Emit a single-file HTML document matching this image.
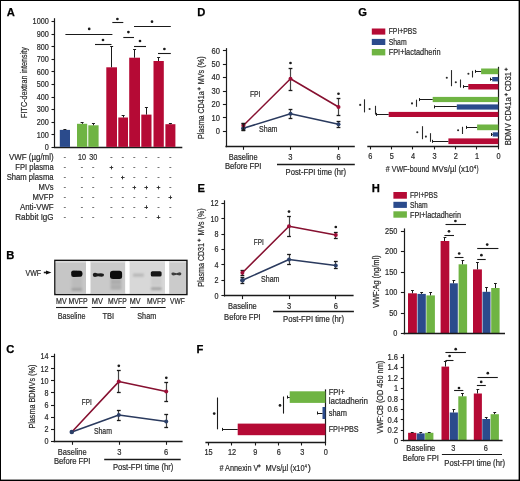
<!DOCTYPE html>
<html><head><meta charset="utf-8"><title>Figure</title>
<style>
html,body{margin:0;padding:0;background:#fff;}
body{width:520px;height:481px;overflow:hidden;}
svg{display:block;will-change:transform;font-family:"Liberation Sans",sans-serif;}
</style></head>
<body>
<svg width="520" height="481" viewBox="0 0 520 481">
<rect x="0" y="0" width="520" height="481" fill="#000"/>
<rect x="1" y="1" width="517.6" height="478.6" fill="#fff"/>
<text x="6.8" y="16" font-size="11.2" font-weight="bold" fill="#000" stroke="#000" stroke-width="0.25">A</text>
<line x1="54.5" y1="18.2" x2="54.5" y2="147.9" stroke="#1a1a1a" stroke-width="1.2"/>
<line x1="51.5" y1="147.5" x2="54.6" y2="147.5" stroke="#1a1a1a" stroke-width="1.1"/>
<text x="48.8" y="150.13" font-size="8.2" fill="#2a2a2a" text-anchor="end" textLength="4.05" lengthAdjust="spacingAndGlyphs" stroke="#2a2a2a" stroke-width="0.2">0</text>
<line x1="51.5" y1="134.5" x2="54.6" y2="134.5" stroke="#1a1a1a" stroke-width="1.1"/>
<text x="48.8" y="137.56" font-size="8.2" fill="#2a2a2a" text-anchor="end" textLength="12.15" lengthAdjust="spacingAndGlyphs" stroke="#2a2a2a" stroke-width="0.2">100</text>
<line x1="51.5" y1="122.5" x2="54.6" y2="122.5" stroke="#1a1a1a" stroke-width="1.1"/>
<text x="48.8" y="124.99" font-size="8.2" fill="#2a2a2a" text-anchor="end" textLength="12.15" lengthAdjust="spacingAndGlyphs" stroke="#2a2a2a" stroke-width="0.2">200</text>
<line x1="51.5" y1="109.5" x2="54.6" y2="109.5" stroke="#1a1a1a" stroke-width="1.1"/>
<text x="48.8" y="112.42" font-size="8.2" fill="#2a2a2a" text-anchor="end" textLength="12.15" lengthAdjust="spacingAndGlyphs" stroke="#2a2a2a" stroke-width="0.2">300</text>
<line x1="51.5" y1="97.5" x2="54.6" y2="97.5" stroke="#1a1a1a" stroke-width="1.1"/>
<text x="48.8" y="99.85" font-size="8.2" fill="#2a2a2a" text-anchor="end" textLength="12.15" lengthAdjust="spacingAndGlyphs" stroke="#2a2a2a" stroke-width="0.2">400</text>
<line x1="51.5" y1="84.5" x2="54.6" y2="84.5" stroke="#1a1a1a" stroke-width="1.1"/>
<text x="48.8" y="87.28" font-size="8.2" fill="#2a2a2a" text-anchor="end" textLength="12.15" lengthAdjust="spacingAndGlyphs" stroke="#2a2a2a" stroke-width="0.2">500</text>
<line x1="51.5" y1="71.5" x2="54.6" y2="71.5" stroke="#1a1a1a" stroke-width="1.1"/>
<text x="48.8" y="74.71" font-size="8.2" fill="#2a2a2a" text-anchor="end" textLength="12.15" lengthAdjust="spacingAndGlyphs" stroke="#2a2a2a" stroke-width="0.2">600</text>
<line x1="51.5" y1="59.5" x2="54.6" y2="59.5" stroke="#1a1a1a" stroke-width="1.1"/>
<text x="48.8" y="62.14" font-size="8.2" fill="#2a2a2a" text-anchor="end" textLength="12.15" lengthAdjust="spacingAndGlyphs" stroke="#2a2a2a" stroke-width="0.2">700</text>
<line x1="51.5" y1="46.5" x2="54.6" y2="46.5" stroke="#1a1a1a" stroke-width="1.1"/>
<text x="48.8" y="49.57" font-size="8.2" fill="#2a2a2a" text-anchor="end" textLength="12.15" lengthAdjust="spacingAndGlyphs" stroke="#2a2a2a" stroke-width="0.2">800</text>
<line x1="51.5" y1="34.5" x2="54.6" y2="34.5" stroke="#1a1a1a" stroke-width="1.1"/>
<text x="48.8" y="37" font-size="8.2" fill="#2a2a2a" text-anchor="end" textLength="12.15" lengthAdjust="spacingAndGlyphs" stroke="#2a2a2a" stroke-width="0.2">900</text>
<line x1="51.5" y1="21.5" x2="54.6" y2="21.5" stroke="#1a1a1a" stroke-width="1.1"/>
<text x="48.8" y="24.43" font-size="8.2" fill="#2a2a2a" text-anchor="end" textLength="16.2" lengthAdjust="spacingAndGlyphs" stroke="#2a2a2a" stroke-width="0.2">1000</text>
<line x1="54" y1="147.5" x2="182.3" y2="147.5" stroke="#1a1a1a" stroke-width="1.4"/>
<text x="27.3" y="117.9" font-size="8.8" fill="#2a2a2a" textLength="70.8" lengthAdjust="spacingAndGlyphs" stroke="#2a2a2a" stroke-width="0.2" transform="rotate(-90 27.3 117.9)">FITC-dextran intensity</text>
<rect x="59.8" y="129.9" width="10.2" height="17" fill="#2b4b8c"/>
<rect x="77" y="123.8" width="10.2" height="23.1" fill="#6fb443"/>
<rect x="88.3" y="125.3" width="10.3" height="21.6" fill="#6fb443"/>
<rect x="106.3" y="67.3" width="10.7" height="79.6" fill="#b50a35"/>
<rect x="118.3" y="117.5" width="9.7" height="29.4" fill="#b50a35"/>
<rect x="129.2" y="57.7" width="10.8" height="89.2" fill="#b50a35"/>
<rect x="141.3" y="114.6" width="10.2" height="32.3" fill="#b50a35"/>
<rect x="153.5" y="61" width="10.3" height="85.9" fill="#b50a35"/>
<rect x="165.4" y="124.2" width="10" height="22.7" fill="#b50a35"/>
<line x1="64.5" y1="129.9" x2="64.5" y2="129.4" stroke="#1a1a1a" stroke-width="1"/>
<line x1="63.4" y1="129.5" x2="66.4" y2="129.5" stroke="#1a1a1a" stroke-width="1"/>
<line x1="82.5" y1="123.8" x2="82.5" y2="122.8" stroke="#1a1a1a" stroke-width="1"/>
<line x1="80.6" y1="122.5" x2="83.6" y2="122.5" stroke="#1a1a1a" stroke-width="1"/>
<line x1="93.5" y1="125.3" x2="93.5" y2="123" stroke="#1a1a1a" stroke-width="1"/>
<line x1="91.95" y1="123.5" x2="94.95" y2="123.5" stroke="#1a1a1a" stroke-width="1"/>
<line x1="111.5" y1="67.3" x2="111.5" y2="46.5" stroke="#1a1a1a" stroke-width="1"/>
<line x1="110.15" y1="46.5" x2="113.15" y2="46.5" stroke="#1a1a1a" stroke-width="1"/>
<line x1="123.5" y1="117.5" x2="123.5" y2="115" stroke="#1a1a1a" stroke-width="1"/>
<line x1="121.65" y1="115.5" x2="124.65" y2="115.5" stroke="#1a1a1a" stroke-width="1"/>
<line x1="134.5" y1="57.7" x2="134.5" y2="49" stroke="#1a1a1a" stroke-width="1"/>
<line x1="133.1" y1="49.5" x2="136.1" y2="49.5" stroke="#1a1a1a" stroke-width="1"/>
<line x1="146.5" y1="114.6" x2="146.5" y2="107.9" stroke="#1a1a1a" stroke-width="1"/>
<line x1="144.9" y1="107.5" x2="147.9" y2="107.5" stroke="#1a1a1a" stroke-width="1"/>
<line x1="158.5" y1="61" x2="158.5" y2="57" stroke="#1a1a1a" stroke-width="1"/>
<line x1="157.15" y1="57.5" x2="160.15" y2="57.5" stroke="#1a1a1a" stroke-width="1"/>
<line x1="170.5" y1="124.2" x2="170.5" y2="123.2" stroke="#1a1a1a" stroke-width="1"/>
<line x1="168.9" y1="123.5" x2="171.9" y2="123.5" stroke="#1a1a1a" stroke-width="1"/>
<line x1="65.4" y1="34.5" x2="112.4" y2="34.5" stroke="#1a1a1a" stroke-width="1.1"/>
<circle cx="89.2" cy="28.9" r="1.35" fill="#1a1a1a"/>
<line x1="112.3" y1="22.5" x2="123.3" y2="22.5" stroke="#1a1a1a" stroke-width="1.1"/>
<circle cx="117.4" cy="19" r="1.35" fill="#1a1a1a"/>
<line x1="95" y1="44.5" x2="111.5" y2="44.5" stroke="#1a1a1a" stroke-width="1.1"/>
<circle cx="103" cy="40" r="1.35" fill="#1a1a1a"/>
<line x1="123.3" y1="37.5" x2="134" y2="37.5" stroke="#1a1a1a" stroke-width="1.1"/>
<circle cx="128.4" cy="32.1" r="1.35" fill="#1a1a1a"/>
<line x1="134" y1="26.5" x2="170.8" y2="26.5" stroke="#1a1a1a" stroke-width="1.1"/>
<circle cx="152" cy="21.7" r="1.35" fill="#1a1a1a"/>
<line x1="134" y1="46.5" x2="146" y2="46.5" stroke="#1a1a1a" stroke-width="1.1"/>
<circle cx="140" cy="41" r="1.35" fill="#1a1a1a"/>
<line x1="158" y1="53.5" x2="170.8" y2="53.5" stroke="#1a1a1a" stroke-width="1.1"/>
<circle cx="164.4" cy="49" r="1.35" fill="#1a1a1a"/>
<text x="53.6" y="159.73" font-size="8.2" fill="#2a2a2a" text-anchor="end" textLength="44.6" lengthAdjust="spacingAndGlyphs" stroke="#2a2a2a" stroke-width="0.2">VWF (µg/ml)</text>
<line x1="63.8" y1="157.5" x2="65.8" y2="157.5" stroke="#555" stroke-width="0.8"/>
<text x="81.9" y="159.73" font-size="8.2" fill="#2a2a2a" text-anchor="middle" textLength="8" lengthAdjust="spacingAndGlyphs" stroke="#2a2a2a" stroke-width="0.2">10</text>
<text x="93.2" y="159.73" font-size="8.2" fill="#2a2a2a" text-anchor="middle" textLength="8" lengthAdjust="spacingAndGlyphs" stroke="#2a2a2a" stroke-width="0.2">30</text>
<line x1="110.4" y1="157.5" x2="112.4" y2="157.5" stroke="#555" stroke-width="0.8"/>
<line x1="121.8" y1="157.5" x2="123.8" y2="157.5" stroke="#555" stroke-width="0.8"/>
<line x1="133.3" y1="157.5" x2="135.3" y2="157.5" stroke="#555" stroke-width="0.8"/>
<line x1="145.2" y1="157.5" x2="147.2" y2="157.5" stroke="#555" stroke-width="0.8"/>
<line x1="157.5" y1="157.5" x2="159.5" y2="157.5" stroke="#555" stroke-width="0.8"/>
<line x1="169.3" y1="157.5" x2="171.3" y2="157.5" stroke="#555" stroke-width="0.8"/>
<text x="53.6" y="170.43" font-size="8.2" fill="#2a2a2a" text-anchor="end" textLength="38.3" lengthAdjust="spacingAndGlyphs" stroke="#2a2a2a" stroke-width="0.2">FPI plasma</text>
<line x1="63.8" y1="167.5" x2="65.8" y2="167.5" stroke="#555" stroke-width="0.8"/>
<line x1="80.9" y1="167.5" x2="82.9" y2="167.5" stroke="#555" stroke-width="0.8"/>
<line x1="92.2" y1="167.5" x2="94.2" y2="167.5" stroke="#555" stroke-width="0.8"/>
<line x1="109.6" y1="167.5" x2="113.2" y2="167.5" stroke="#2a2a2a" stroke-width="0.9"/>
<line x1="111.5" y1="165.8" x2="111.5" y2="169.4" stroke="#2a2a2a" stroke-width="0.9"/>
<line x1="121.8" y1="167.5" x2="123.8" y2="167.5" stroke="#555" stroke-width="0.8"/>
<line x1="133.3" y1="167.5" x2="135.3" y2="167.5" stroke="#555" stroke-width="0.8"/>
<line x1="145.2" y1="167.5" x2="147.2" y2="167.5" stroke="#555" stroke-width="0.8"/>
<line x1="157.5" y1="167.5" x2="159.5" y2="167.5" stroke="#555" stroke-width="0.8"/>
<line x1="169.3" y1="167.5" x2="171.3" y2="167.5" stroke="#555" stroke-width="0.8"/>
<text x="53.6" y="180.43" font-size="8.2" fill="#2a2a2a" text-anchor="end" textLength="46.9" lengthAdjust="spacingAndGlyphs" stroke="#2a2a2a" stroke-width="0.2">Sham plasma</text>
<line x1="63.8" y1="177.5" x2="65.8" y2="177.5" stroke="#555" stroke-width="0.8"/>
<line x1="80.9" y1="177.5" x2="82.9" y2="177.5" stroke="#555" stroke-width="0.8"/>
<line x1="92.2" y1="177.5" x2="94.2" y2="177.5" stroke="#555" stroke-width="0.8"/>
<line x1="110.4" y1="177.5" x2="112.4" y2="177.5" stroke="#555" stroke-width="0.8"/>
<line x1="121" y1="177.5" x2="124.6" y2="177.5" stroke="#2a2a2a" stroke-width="0.9"/>
<line x1="122.5" y1="175.8" x2="122.5" y2="179.4" stroke="#2a2a2a" stroke-width="0.9"/>
<line x1="133.3" y1="177.5" x2="135.3" y2="177.5" stroke="#555" stroke-width="0.8"/>
<line x1="145.2" y1="177.5" x2="147.2" y2="177.5" stroke="#555" stroke-width="0.8"/>
<line x1="157.5" y1="177.5" x2="159.5" y2="177.5" stroke="#555" stroke-width="0.8"/>
<line x1="169.3" y1="177.5" x2="171.3" y2="177.5" stroke="#555" stroke-width="0.8"/>
<text x="53.6" y="190.43" font-size="8.2" fill="#2a2a2a" text-anchor="end" textLength="15.2" lengthAdjust="spacingAndGlyphs" stroke="#2a2a2a" stroke-width="0.2">MVs</text>
<line x1="63.8" y1="187.5" x2="65.8" y2="187.5" stroke="#555" stroke-width="0.8"/>
<line x1="80.9" y1="187.5" x2="82.9" y2="187.5" stroke="#555" stroke-width="0.8"/>
<line x1="92.2" y1="187.5" x2="94.2" y2="187.5" stroke="#555" stroke-width="0.8"/>
<line x1="110.4" y1="187.5" x2="112.4" y2="187.5" stroke="#555" stroke-width="0.8"/>
<line x1="121.8" y1="187.5" x2="123.8" y2="187.5" stroke="#555" stroke-width="0.8"/>
<line x1="132.5" y1="187.5" x2="136.1" y2="187.5" stroke="#2a2a2a" stroke-width="0.9"/>
<line x1="134.5" y1="185.8" x2="134.5" y2="189.4" stroke="#2a2a2a" stroke-width="0.9"/>
<line x1="144.4" y1="187.5" x2="148" y2="187.5" stroke="#2a2a2a" stroke-width="0.9"/>
<line x1="146.5" y1="185.8" x2="146.5" y2="189.4" stroke="#2a2a2a" stroke-width="0.9"/>
<line x1="156.7" y1="187.5" x2="160.3" y2="187.5" stroke="#2a2a2a" stroke-width="0.9"/>
<line x1="158.5" y1="185.8" x2="158.5" y2="189.4" stroke="#2a2a2a" stroke-width="0.9"/>
<line x1="169.3" y1="187.5" x2="171.3" y2="187.5" stroke="#555" stroke-width="0.8"/>
<text x="53.6" y="200.13" font-size="8.2" fill="#2a2a2a" text-anchor="end" textLength="21.2" lengthAdjust="spacingAndGlyphs" stroke="#2a2a2a" stroke-width="0.2">MVFP</text>
<line x1="63.8" y1="197.5" x2="65.8" y2="197.5" stroke="#555" stroke-width="0.8"/>
<line x1="80.9" y1="197.5" x2="82.9" y2="197.5" stroke="#555" stroke-width="0.8"/>
<line x1="92.2" y1="197.5" x2="94.2" y2="197.5" stroke="#555" stroke-width="0.8"/>
<line x1="110.4" y1="197.5" x2="112.4" y2="197.5" stroke="#555" stroke-width="0.8"/>
<line x1="121.8" y1="197.5" x2="123.8" y2="197.5" stroke="#555" stroke-width="0.8"/>
<line x1="133.3" y1="197.5" x2="135.3" y2="197.5" stroke="#555" stroke-width="0.8"/>
<line x1="145.2" y1="197.5" x2="147.2" y2="197.5" stroke="#555" stroke-width="0.8"/>
<line x1="157.5" y1="197.5" x2="159.5" y2="197.5" stroke="#555" stroke-width="0.8"/>
<line x1="168.5" y1="197.5" x2="172.1" y2="197.5" stroke="#2a2a2a" stroke-width="0.9"/>
<line x1="170.5" y1="195.5" x2="170.5" y2="199.1" stroke="#2a2a2a" stroke-width="0.9"/>
<text x="53.6" y="209.93" font-size="8.2" fill="#2a2a2a" text-anchor="end" textLength="33.6" lengthAdjust="spacingAndGlyphs" stroke="#2a2a2a" stroke-width="0.2">Anti-VWF</text>
<line x1="63.8" y1="207.5" x2="65.8" y2="207.5" stroke="#555" stroke-width="0.8"/>
<line x1="80.9" y1="207.5" x2="82.9" y2="207.5" stroke="#555" stroke-width="0.8"/>
<line x1="92.2" y1="207.5" x2="94.2" y2="207.5" stroke="#555" stroke-width="0.8"/>
<line x1="110.4" y1="207.5" x2="112.4" y2="207.5" stroke="#555" stroke-width="0.8"/>
<line x1="121.8" y1="207.5" x2="123.8" y2="207.5" stroke="#555" stroke-width="0.8"/>
<line x1="133.3" y1="207.5" x2="135.3" y2="207.5" stroke="#555" stroke-width="0.8"/>
<line x1="144.4" y1="207.5" x2="148" y2="207.5" stroke="#2a2a2a" stroke-width="0.9"/>
<line x1="146.5" y1="205.3" x2="146.5" y2="208.9" stroke="#2a2a2a" stroke-width="0.9"/>
<line x1="157.5" y1="207.5" x2="159.5" y2="207.5" stroke="#555" stroke-width="0.8"/>
<line x1="169.3" y1="207.5" x2="171.3" y2="207.5" stroke="#555" stroke-width="0.8"/>
<text x="53.6" y="219.93" font-size="8.2" fill="#2a2a2a" text-anchor="end" textLength="38.4" lengthAdjust="spacingAndGlyphs" stroke="#2a2a2a" stroke-width="0.2">Rabbit IgG</text>
<line x1="63.8" y1="217.5" x2="65.8" y2="217.5" stroke="#555" stroke-width="0.8"/>
<line x1="80.9" y1="217.5" x2="82.9" y2="217.5" stroke="#555" stroke-width="0.8"/>
<line x1="92.2" y1="217.5" x2="94.2" y2="217.5" stroke="#555" stroke-width="0.8"/>
<line x1="110.4" y1="217.5" x2="112.4" y2="217.5" stroke="#555" stroke-width="0.8"/>
<line x1="121.8" y1="217.5" x2="123.8" y2="217.5" stroke="#555" stroke-width="0.8"/>
<line x1="133.3" y1="217.5" x2="135.3" y2="217.5" stroke="#555" stroke-width="0.8"/>
<line x1="145.2" y1="217.5" x2="147.2" y2="217.5" stroke="#555" stroke-width="0.8"/>
<line x1="156.7" y1="217.5" x2="160.3" y2="217.5" stroke="#2a2a2a" stroke-width="0.9"/>
<line x1="158.5" y1="215.3" x2="158.5" y2="218.9" stroke="#2a2a2a" stroke-width="0.9"/>
<line x1="169.3" y1="217.5" x2="171.3" y2="217.5" stroke="#555" stroke-width="0.8"/>
<text x="6.2" y="259.3" font-size="11.2" font-weight="bold" fill="#000" stroke="#000" stroke-width="0.25">B</text>
<text x="25.5" y="275.5" font-size="8.2" fill="#2a2a2a" textLength="15.6" lengthAdjust="spacingAndGlyphs" stroke="#2a2a2a" stroke-width="0.2">VWF</text>
<line x1="43.8" y1="272.5" x2="47.5" y2="272.5" stroke="#1a1a1a" stroke-width="1.6"/>
<path d="M46.0 270.4 L51.4 272.5 L46.0 274.6 Z" fill="#111"/>
<rect x="54.9" y="260.4" width="132" height="34.1" fill="none" stroke="#111" stroke-width="1.5"/>
<rect x="55.7" y="261.2" width="30.3" height="32.5" fill="#c6c6c6"/>
<rect x="55.7" y="261.2" width="30.3" height="1.4" fill="#dedede"/>
<rect x="90.3" y="261.2" width="35.1" height="32.5" fill="#cacaca"/>
<rect x="90.3" y="261.2" width="35.1" height="1.4" fill="#dedede"/>
<rect x="129.4" y="261.2" width="35.7" height="32.5" fill="#d8d8d8"/>
<rect x="129.4" y="261.2" width="35.7" height="1.4" fill="#dedede"/>
<rect x="169.1" y="261.2" width="17" height="32.5" fill="#cbcbcb"/>
<rect x="169.1" y="261.2" width="17" height="1.4" fill="#dedede"/>
<rect x="86" y="261.2" width="4.3" height="32.5" fill="#ffffff"/>
<rect x="125.4" y="261.2" width="4" height="32.5" fill="#ffffff"/>
<rect x="165.1" y="261.2" width="4" height="32.5" fill="#ffffff"/>
<defs><filter id="bl" x="-30%" y="-60%" width="160%" height="220%"><feGaussianBlur stdDeviation="0.6"/></filter><filter id="bl2" x="-30%" y="-60%" width="160%" height="220%"><feGaussianBlur stdDeviation="1.0"/></filter></defs>
<g filter="url(#bl2)">
<rect x="71.5" y="277" width="10.6" height="11" fill="#bbbbbb"/>
<rect x="71.5" y="288" width="10.6" height="3" fill="#a2a2a2"/>
<rect x="110.5" y="278" width="11" height="12" fill="#b4b4b4"/>
<rect x="111" y="281" width="10" height="2" fill="#a8a8a8"/>
<rect x="111" y="286" width="10" height="2" fill="#ababab"/>
<rect x="133" y="273.6" width="10.8" height="3" fill="#b6b6b6"/>
<rect x="151" y="287.2" width="10.6" height="3" fill="#a4a4a4"/>
<rect x="151" y="277" width="10.6" height="9" fill="#cccccc"/>
</g>
<g filter="url(#bl)">
<path d="M71.2 272.3 Q71.2 270.6 73.5 270.6 L80.5 270.8 Q82.5 271 82.5 273.6 Q82.5 276.6 80.5 276.8 L73.5 277.1 Q71.2 277.1 71.2 275 Z" fill="#111"/>
<path d="M92.8 274.8 Q92.8 272.8 95 272.8 L98 273.6 L101 273.2 Q104 273.2 104 275 Q104 276.8 101.5 276.8 L98 276.2 L95 277 Q92.8 277 92.8 274.8 Z" fill="#1c1c1c"/>
<path d="M110 273.5 Q110 270.8 113 270.8 L119.5 270.8 Q122.1 270.8 122.1 273.5 L122.1 276.5 Q122.1 279 119.5 279 L113 279 Q110 279 110 276.5 Z" fill="#0e0e0e"/>
<rect x="150.8" y="271.2" width="10.8" height="5.3" rx="1.6" fill="#121212"/>
<path d="M171.4 273.8 Q171.4 272.2 173.5 272.4 L176.5 273.2 L179.5 272.2 Q181.4 272.2 181.4 273.8 Q181.4 275.4 179.5 275.4 L176.5 274.8 L173.5 275.4 Q171.4 275.4 171.4 273.8 Z" fill="#3c3c3c"/>
</g>
<text x="56.1" y="304.03" font-size="8.2" fill="#2a2a2a" textLength="10.6" lengthAdjust="spacingAndGlyphs" stroke="#2a2a2a" stroke-width="0.2">MV</text>
<text x="68.4" y="304.03" font-size="8.2" fill="#2a2a2a" textLength="19.2" lengthAdjust="spacingAndGlyphs" stroke="#2a2a2a" stroke-width="0.2">MVFP</text>
<text x="91.8" y="304.03" font-size="8.2" fill="#2a2a2a" textLength="11.2" lengthAdjust="spacingAndGlyphs" stroke="#2a2a2a" stroke-width="0.2">MV</text>
<text x="108" y="304.03" font-size="8.2" fill="#2a2a2a" textLength="18.7" lengthAdjust="spacingAndGlyphs" stroke="#2a2a2a" stroke-width="0.2">MVFP</text>
<text x="129.8" y="304.03" font-size="8.2" fill="#2a2a2a" textLength="10.8" lengthAdjust="spacingAndGlyphs" stroke="#2a2a2a" stroke-width="0.2">MV</text>
<text x="147" y="304.03" font-size="8.2" fill="#2a2a2a" textLength="18.7" lengthAdjust="spacingAndGlyphs" stroke="#2a2a2a" stroke-width="0.2">MVFP</text>
<text x="170" y="304.03" font-size="8.2" fill="#2a2a2a" textLength="14.7" lengthAdjust="spacingAndGlyphs" stroke="#2a2a2a" stroke-width="0.2">VWF</text>
<line x1="56" y1="307.5" x2="87.6" y2="307.5" stroke="#1a1a1a" stroke-width="1.1"/>
<line x1="91.8" y1="307.5" x2="125.8" y2="307.5" stroke="#1a1a1a" stroke-width="1.1"/>
<line x1="130.3" y1="307.5" x2="165.7" y2="307.5" stroke="#1a1a1a" stroke-width="1.1"/>
<text x="57.8" y="318.93" font-size="8.2" fill="#2a2a2a" textLength="27.6" lengthAdjust="spacingAndGlyphs" stroke="#2a2a2a" stroke-width="0.2">Baseline</text>
<text x="102.4" y="318.93" font-size="8.2" fill="#2a2a2a" textLength="11.7" lengthAdjust="spacingAndGlyphs" stroke="#2a2a2a" stroke-width="0.2">TBI</text>
<text x="137.3" y="318.93" font-size="8.2" fill="#2a2a2a" textLength="18.9" lengthAdjust="spacingAndGlyphs" stroke="#2a2a2a" stroke-width="0.2">Sham</text>
<text x="6.3" y="353.3" font-size="11.2" font-weight="bold" fill="#000" stroke="#000" stroke-width="0.25">C</text>
<line x1="54.5" y1="353.7" x2="54.5" y2="442.2" stroke="#1a1a1a" stroke-width="1.2"/>
<line x1="51" y1="441.5" x2="54.1" y2="441.5" stroke="#1a1a1a" stroke-width="1.1"/>
<text x="48.4" y="444.33" font-size="8.2" fill="#2a2a2a" text-anchor="end" textLength="4" lengthAdjust="spacingAndGlyphs" stroke="#2a2a2a" stroke-width="0.2">0</text>
<line x1="51" y1="429.5" x2="54.1" y2="429.5" stroke="#1a1a1a" stroke-width="1.1"/>
<text x="48.4" y="432.2" font-size="8.2" fill="#2a2a2a" text-anchor="end" textLength="4" lengthAdjust="spacingAndGlyphs" stroke="#2a2a2a" stroke-width="0.2">2</text>
<line x1="51" y1="417.5" x2="54.1" y2="417.5" stroke="#1a1a1a" stroke-width="1.1"/>
<text x="48.4" y="420.07" font-size="8.2" fill="#2a2a2a" text-anchor="end" textLength="4" lengthAdjust="spacingAndGlyphs" stroke="#2a2a2a" stroke-width="0.2">4</text>
<line x1="51" y1="405.5" x2="54.1" y2="405.5" stroke="#1a1a1a" stroke-width="1.1"/>
<text x="48.4" y="407.94" font-size="8.2" fill="#2a2a2a" text-anchor="end" textLength="4" lengthAdjust="spacingAndGlyphs" stroke="#2a2a2a" stroke-width="0.2">6</text>
<line x1="51" y1="392.5" x2="54.1" y2="392.5" stroke="#1a1a1a" stroke-width="1.1"/>
<text x="48.4" y="395.81" font-size="8.2" fill="#2a2a2a" text-anchor="end" textLength="4" lengthAdjust="spacingAndGlyphs" stroke="#2a2a2a" stroke-width="0.2">8</text>
<line x1="51" y1="380.5" x2="54.1" y2="380.5" stroke="#1a1a1a" stroke-width="1.1"/>
<text x="48.4" y="383.69" font-size="8.2" fill="#2a2a2a" text-anchor="end" textLength="8" lengthAdjust="spacingAndGlyphs" stroke="#2a2a2a" stroke-width="0.2">10</text>
<line x1="51" y1="368.5" x2="54.1" y2="368.5" stroke="#1a1a1a" stroke-width="1.1"/>
<text x="48.4" y="371.56" font-size="8.2" fill="#2a2a2a" text-anchor="end" textLength="8" lengthAdjust="spacingAndGlyphs" stroke="#2a2a2a" stroke-width="0.2">12</text>
<line x1="51" y1="356.5" x2="54.1" y2="356.5" stroke="#1a1a1a" stroke-width="1.1"/>
<text x="48.4" y="359.43" font-size="8.2" fill="#2a2a2a" text-anchor="end" textLength="8" lengthAdjust="spacingAndGlyphs" stroke="#2a2a2a" stroke-width="0.2">14</text>
<line x1="53.5" y1="441.5" x2="182.6" y2="441.5" stroke="#1a1a1a" stroke-width="1.3"/>
<line x1="72.5" y1="441.6" x2="72.5" y2="444.8" stroke="#1a1a1a" stroke-width="1.1"/>
<line x1="119.5" y1="441.6" x2="119.5" y2="444.8" stroke="#1a1a1a" stroke-width="1.1"/>
<line x1="166.5" y1="441.6" x2="166.5" y2="444.8" stroke="#1a1a1a" stroke-width="1.1"/>
<text x="34.9" y="428.6" font-size="8.8" fill="#2a2a2a" textLength="63.9" lengthAdjust="spacingAndGlyphs" stroke="#2a2a2a" stroke-width="0.2" transform="rotate(-90 34.9 428.6)">Plasma BDMVs (%)</text>
<text x="72.2" y="454.93" font-size="8.2" fill="#2a2a2a" text-anchor="middle" textLength="28.8" lengthAdjust="spacingAndGlyphs" stroke="#2a2a2a" stroke-width="0.2">Baseline</text>
<text x="72.2" y="464.03" font-size="8.2" fill="#2a2a2a" text-anchor="middle" textLength="36.6" lengthAdjust="spacingAndGlyphs" stroke="#2a2a2a" stroke-width="0.2">Before FPI</text>
<text x="119.3" y="454.93" font-size="8.2" fill="#2a2a2a" text-anchor="middle" textLength="4.2" lengthAdjust="spacingAndGlyphs" stroke="#2a2a2a" stroke-width="0.2">3</text>
<text x="166.2" y="454.93" font-size="8.2" fill="#2a2a2a" text-anchor="middle" textLength="4.2" lengthAdjust="spacingAndGlyphs" stroke="#2a2a2a" stroke-width="0.2">6</text>
<line x1="104.2" y1="459.5" x2="180.7" y2="459.5" stroke="#1a1a1a" stroke-width="1.3"/>
<text x="112.9" y="470.13" font-size="8.2" fill="#2a2a2a" textLength="60.4" lengthAdjust="spacingAndGlyphs" stroke="#2a2a2a" stroke-width="0.2">Post-FPI time (hr)</text>
<line x1="118.5" y1="370.7" x2="118.5" y2="392.5" stroke="#454545" stroke-width="1.2"/>
<line x1="116.9" y1="370.5" x2="120.7" y2="370.5" stroke="#1a1a1a" stroke-width="1.3"/>
<line x1="116.9" y1="392.5" x2="120.7" y2="392.5" stroke="#1a1a1a" stroke-width="1.3"/>
<line x1="166.5" y1="382.3" x2="166.5" y2="401.8" stroke="#454545" stroke-width="1.2"/>
<line x1="164.3" y1="382.5" x2="168.1" y2="382.5" stroke="#1a1a1a" stroke-width="1.3"/>
<line x1="164.3" y1="401.5" x2="168.1" y2="401.5" stroke="#1a1a1a" stroke-width="1.3"/>
<line x1="118.5" y1="410.6" x2="118.5" y2="420.2" stroke="#454545" stroke-width="1.2"/>
<line x1="116.9" y1="410.5" x2="120.7" y2="410.5" stroke="#1a1a1a" stroke-width="1.3"/>
<line x1="116.9" y1="420.5" x2="120.7" y2="420.5" stroke="#1a1a1a" stroke-width="1.3"/>
<line x1="166.5" y1="414" x2="166.5" y2="427.5" stroke="#454545" stroke-width="1.2"/>
<line x1="164.3" y1="414.5" x2="168.1" y2="414.5" stroke="#1a1a1a" stroke-width="1.3"/>
<line x1="164.3" y1="427.5" x2="168.1" y2="427.5" stroke="#1a1a1a" stroke-width="1.3"/>
<polyline points="71.8,432 118.8,415 166.2,421.4" fill="none" stroke="#2a3a5e" stroke-width="1.55" stroke-linejoin="round"/>
<polyline points="71.8,432 118.8,381.6 166.2,391.5" fill="none" stroke="#861030" stroke-width="1.55" stroke-linejoin="round"/>
<circle cx="71.8" cy="432" r="2.3" fill="#2b3f68"/>
<circle cx="118.8" cy="415" r="2" fill="#2b3f68"/>
<circle cx="166.2" cy="421.4" r="2" fill="#2b3f68"/>
<circle cx="118.8" cy="381.6" r="2" fill="#9e0f38"/>
<circle cx="166.2" cy="391.5" r="2" fill="#9e0f38"/>
<circle cx="118.8" cy="365.8" r="1.35" fill="#1a1a1a"/>
<circle cx="166.3" cy="377.8" r="1.35" fill="#1a1a1a"/>
<text x="81.8" y="405.33" font-size="8.2" fill="#2a2a2a" textLength="9.9" lengthAdjust="spacingAndGlyphs" stroke="#2a2a2a" stroke-width="0.2">FPI</text>
<text x="93.9" y="433.63" font-size="8.2" fill="#2a2a2a" textLength="18.1" lengthAdjust="spacingAndGlyphs" stroke="#2a2a2a" stroke-width="0.2">Sham</text>
<text x="197.2" y="16" font-size="11.2" font-weight="bold" fill="#000" stroke="#000" stroke-width="0.25">D</text>
<line x1="226.5" y1="48.1" x2="226.5" y2="147.2" stroke="#1a1a1a" stroke-width="1.2"/>
<line x1="222.9" y1="131.5" x2="226" y2="131.5" stroke="#1a1a1a" stroke-width="1.1"/>
<text x="219.9" y="134.13" font-size="8.2" fill="#2a2a2a" text-anchor="end" textLength="4.2" lengthAdjust="spacingAndGlyphs" stroke="#2a2a2a" stroke-width="0.2">0</text>
<line x1="222.9" y1="117.5" x2="226" y2="117.5" stroke="#1a1a1a" stroke-width="1.1"/>
<text x="219.9" y="120.7" font-size="8.2" fill="#2a2a2a" text-anchor="end" textLength="8.4" lengthAdjust="spacingAndGlyphs" stroke="#2a2a2a" stroke-width="0.2">10</text>
<line x1="222.9" y1="104.5" x2="226" y2="104.5" stroke="#1a1a1a" stroke-width="1.1"/>
<text x="219.9" y="107.28" font-size="8.2" fill="#2a2a2a" text-anchor="end" textLength="8.4" lengthAdjust="spacingAndGlyphs" stroke="#2a2a2a" stroke-width="0.2">20</text>
<line x1="222.9" y1="91.5" x2="226" y2="91.5" stroke="#1a1a1a" stroke-width="1.1"/>
<text x="219.9" y="93.85" font-size="8.2" fill="#2a2a2a" text-anchor="end" textLength="8.4" lengthAdjust="spacingAndGlyphs" stroke="#2a2a2a" stroke-width="0.2">30</text>
<line x1="222.9" y1="77.5" x2="226" y2="77.5" stroke="#1a1a1a" stroke-width="1.1"/>
<text x="219.9" y="80.43" font-size="8.2" fill="#2a2a2a" text-anchor="end" textLength="8.4" lengthAdjust="spacingAndGlyphs" stroke="#2a2a2a" stroke-width="0.2">40</text>
<line x1="222.9" y1="64.5" x2="226" y2="64.5" stroke="#1a1a1a" stroke-width="1.1"/>
<text x="219.9" y="67" font-size="8.2" fill="#2a2a2a" text-anchor="end" textLength="8.4" lengthAdjust="spacingAndGlyphs" stroke="#2a2a2a" stroke-width="0.2">50</text>
<line x1="222.9" y1="50.5" x2="226" y2="50.5" stroke="#1a1a1a" stroke-width="1.1"/>
<text x="219.9" y="53.58" font-size="8.2" fill="#2a2a2a" text-anchor="end" textLength="8.4" lengthAdjust="spacingAndGlyphs" stroke="#2a2a2a" stroke-width="0.2">60</text>
<line x1="225.4" y1="146.5" x2="354.8" y2="146.5" stroke="#1a1a1a" stroke-width="1.3"/>
<line x1="243.5" y1="146.6" x2="243.5" y2="149.8" stroke="#1a1a1a" stroke-width="1.1"/>
<line x1="290.5" y1="146.6" x2="290.5" y2="149.8" stroke="#1a1a1a" stroke-width="1.1"/>
<line x1="338.5" y1="146.6" x2="338.5" y2="149.8" stroke="#1a1a1a" stroke-width="1.1"/>
<text x="204.4" y="139.1" font-size="8.8" fill="#2a2a2a" textLength="47.7" lengthAdjust="spacingAndGlyphs" stroke="#2a2a2a" stroke-width="0.2" transform="rotate(-90 204.4 139.1)">Plasma CD41a</text>
<path d="M197.52 88.75H200.72M199.12 87.15V90.35" stroke="#2a2a2a" stroke-width="1.0" fill="none"/>
<text x="204.4" y="84.3" font-size="8.8" fill="#2a2a2a" textLength="27.9" lengthAdjust="spacingAndGlyphs" stroke="#2a2a2a" stroke-width="0.2" transform="rotate(-90 204.4 84.3)">MVs (%)</text>
<text x="243.2" y="159.83" font-size="8.2" fill="#2a2a2a" text-anchor="middle" textLength="28.8" lengthAdjust="spacingAndGlyphs" stroke="#2a2a2a" stroke-width="0.2">Baseline</text>
<text x="243.2" y="168.83" font-size="8.2" fill="#2a2a2a" text-anchor="middle" textLength="36.6" lengthAdjust="spacingAndGlyphs" stroke="#2a2a2a" stroke-width="0.2">Before FPI</text>
<text x="290.4" y="159.83" font-size="8.2" fill="#2a2a2a" text-anchor="middle" textLength="4.2" lengthAdjust="spacingAndGlyphs" stroke="#2a2a2a" stroke-width="0.2">3</text>
<text x="338.7" y="159.83" font-size="8.2" fill="#2a2a2a" text-anchor="middle" textLength="4.2" lengthAdjust="spacingAndGlyphs" stroke="#2a2a2a" stroke-width="0.2">6</text>
<line x1="277" y1="164.5" x2="354.8" y2="164.5" stroke="#1a1a1a" stroke-width="1.3"/>
<text x="285.6" y="174.53" font-size="8.2" fill="#2a2a2a" textLength="60.5" lengthAdjust="spacingAndGlyphs" stroke="#2a2a2a" stroke-width="0.2">Post-FPI time (hr)</text>
<line x1="243.5" y1="123.3" x2="243.5" y2="130.9" stroke="#454545" stroke-width="1.2"/>
<line x1="241.5" y1="123.5" x2="245.3" y2="123.5" stroke="#1a1a1a" stroke-width="1.3"/>
<line x1="241.5" y1="130.5" x2="245.3" y2="130.5" stroke="#1a1a1a" stroke-width="1.3"/>
<line x1="290.5" y1="68" x2="290.5" y2="90.75" stroke="#454545" stroke-width="1.2"/>
<line x1="288.6" y1="68.5" x2="292.4" y2="68.5" stroke="#1a1a1a" stroke-width="1.3"/>
<line x1="288.6" y1="90.5" x2="292.4" y2="90.5" stroke="#1a1a1a" stroke-width="1.3"/>
<line x1="338.5" y1="98.75" x2="338.5" y2="115.5" stroke="#454545" stroke-width="1.2"/>
<line x1="336.6" y1="98.5" x2="340.4" y2="98.5" stroke="#1a1a1a" stroke-width="1.3"/>
<line x1="336.6" y1="115.5" x2="340.4" y2="115.5" stroke="#1a1a1a" stroke-width="1.3"/>
<line x1="290.5" y1="109.5" x2="290.5" y2="118" stroke="#454545" stroke-width="1.2"/>
<line x1="288.6" y1="109.5" x2="292.4" y2="109.5" stroke="#1a1a1a" stroke-width="1.3"/>
<line x1="288.6" y1="118.5" x2="292.4" y2="118.5" stroke="#1a1a1a" stroke-width="1.3"/>
<line x1="338.5" y1="121.25" x2="338.5" y2="127" stroke="#454545" stroke-width="1.2"/>
<line x1="336.6" y1="121.5" x2="340.4" y2="121.5" stroke="#1a1a1a" stroke-width="1.3"/>
<line x1="336.6" y1="127.5" x2="340.4" y2="127.5" stroke="#1a1a1a" stroke-width="1.3"/>
<polyline points="243.4,128.2 290.5,113.75 338.5,124.3" fill="none" stroke="#2a3a5e" stroke-width="1.55" stroke-linejoin="round"/>
<polyline points="243.4,125.5 290.5,78.75 338.5,107" fill="none" stroke="#861030" stroke-width="1.55" stroke-linejoin="round"/>
<circle cx="243.4" cy="128.2" r="2.3" fill="#2b3f68"/>
<circle cx="290.5" cy="113.75" r="2" fill="#2b3f68"/>
<circle cx="338.5" cy="124.3" r="2" fill="#2b3f68"/>
<circle cx="290.5" cy="78.75" r="2" fill="#9e0f38"/>
<circle cx="338.5" cy="107" r="2" fill="#9e0f38"/>
<circle cx="290.5" cy="63" r="1.35" fill="#1a1a1a"/>
<circle cx="338.5" cy="93.75" r="1.35" fill="#1a1a1a"/>
<text x="250" y="97.33" font-size="8.2" fill="#2a2a2a" textLength="10.5" lengthAdjust="spacingAndGlyphs" stroke="#2a2a2a" stroke-width="0.2">FPI</text>
<text x="259" y="131.83" font-size="8.2" fill="#2a2a2a" textLength="18.5" lengthAdjust="spacingAndGlyphs" stroke="#2a2a2a" stroke-width="0.2">Sham</text>
<circle cx="243.4" cy="125.5" r="2" fill="#9e0f38"/>
<line x1="241.6" y1="123.7" x2="245.2" y2="123.7" stroke="#1a1a1a" stroke-width="1.6"/>
<line x1="241.6" y1="130.3" x2="245.2" y2="130.3" stroke="#1a1a1a" stroke-width="1.6"/>
<line x1="243.5" y1="123.7" x2="243.5" y2="130.3" stroke="#1a1a1a" stroke-width="1.4"/>
<text x="197.4" y="191.5" font-size="11.2" font-weight="bold" fill="#000" stroke="#000" stroke-width="0.25">E</text>
<line x1="224.5" y1="200.3" x2="224.5" y2="296.5" stroke="#1a1a1a" stroke-width="1.2"/>
<line x1="221.4" y1="295.5" x2="224.5" y2="295.5" stroke="#1a1a1a" stroke-width="1.1"/>
<text x="218.5" y="298.53" font-size="8.2" fill="#2a2a2a" text-anchor="end" textLength="4" lengthAdjust="spacingAndGlyphs" stroke="#2a2a2a" stroke-width="0.2">0</text>
<line x1="221.4" y1="280.5" x2="224.5" y2="280.5" stroke="#1a1a1a" stroke-width="1.1"/>
<text x="218.5" y="283.13" font-size="8.2" fill="#2a2a2a" text-anchor="end" textLength="4" lengthAdjust="spacingAndGlyphs" stroke="#2a2a2a" stroke-width="0.2">2</text>
<line x1="221.4" y1="264.5" x2="224.5" y2="264.5" stroke="#1a1a1a" stroke-width="1.1"/>
<text x="218.5" y="267.73" font-size="8.2" fill="#2a2a2a" text-anchor="end" textLength="4" lengthAdjust="spacingAndGlyphs" stroke="#2a2a2a" stroke-width="0.2">4</text>
<line x1="221.4" y1="249.5" x2="224.5" y2="249.5" stroke="#1a1a1a" stroke-width="1.1"/>
<text x="218.5" y="252.33" font-size="8.2" fill="#2a2a2a" text-anchor="end" textLength="4" lengthAdjust="spacingAndGlyphs" stroke="#2a2a2a" stroke-width="0.2">6</text>
<line x1="221.4" y1="234.5" x2="224.5" y2="234.5" stroke="#1a1a1a" stroke-width="1.1"/>
<text x="218.5" y="236.93" font-size="8.2" fill="#2a2a2a" text-anchor="end" textLength="4" lengthAdjust="spacingAndGlyphs" stroke="#2a2a2a" stroke-width="0.2">8</text>
<line x1="221.4" y1="218.5" x2="224.5" y2="218.5" stroke="#1a1a1a" stroke-width="1.1"/>
<text x="218.5" y="221.53" font-size="8.2" fill="#2a2a2a" text-anchor="end" textLength="8" lengthAdjust="spacingAndGlyphs" stroke="#2a2a2a" stroke-width="0.2">10</text>
<line x1="221.4" y1="203.5" x2="224.5" y2="203.5" stroke="#1a1a1a" stroke-width="1.1"/>
<text x="218.5" y="206.13" font-size="8.2" fill="#2a2a2a" text-anchor="end" textLength="8" lengthAdjust="spacingAndGlyphs" stroke="#2a2a2a" stroke-width="0.2">12</text>
<line x1="223.9" y1="295.5" x2="353.6" y2="295.5" stroke="#1a1a1a" stroke-width="1.3"/>
<line x1="242.5" y1="295.9" x2="242.5" y2="299.1" stroke="#1a1a1a" stroke-width="1.1"/>
<line x1="289.5" y1="295.9" x2="289.5" y2="299.1" stroke="#1a1a1a" stroke-width="1.1"/>
<line x1="335.5" y1="295.9" x2="335.5" y2="299.1" stroke="#1a1a1a" stroke-width="1.1"/>
<text x="204.4" y="286.7" font-size="8.8" fill="#2a2a2a" textLength="43.7" lengthAdjust="spacingAndGlyphs" stroke="#2a2a2a" stroke-width="0.2" transform="rotate(-90 204.4 286.7)">Plasma CD31</text>
<path d="M197.52 240.3H200.72M199.12 238.7V241.9" stroke="#2a2a2a" stroke-width="1.0" fill="none"/>
<text x="204.4" y="235.4" font-size="8.8" fill="#2a2a2a" textLength="26.9" lengthAdjust="spacingAndGlyphs" stroke="#2a2a2a" stroke-width="0.2" transform="rotate(-90 204.4 235.4)">MVs (%)</text>
<text x="242.4" y="308.83" font-size="8.2" fill="#2a2a2a" text-anchor="middle" textLength="28.8" lengthAdjust="spacingAndGlyphs" stroke="#2a2a2a" stroke-width="0.2">Baseline</text>
<text x="242.4" y="319.63" font-size="8.2" fill="#2a2a2a" text-anchor="middle" textLength="36.6" lengthAdjust="spacingAndGlyphs" stroke="#2a2a2a" stroke-width="0.2">Before FPI</text>
<text x="289" y="308.83" font-size="8.2" fill="#2a2a2a" text-anchor="middle" textLength="4.2" lengthAdjust="spacingAndGlyphs" stroke="#2a2a2a" stroke-width="0.2">3</text>
<text x="335.8" y="308.83" font-size="8.2" fill="#2a2a2a" text-anchor="middle" textLength="4.2" lengthAdjust="spacingAndGlyphs" stroke="#2a2a2a" stroke-width="0.2">6</text>
<line x1="273.1" y1="311.5" x2="353.9" y2="311.5" stroke="#1a1a1a" stroke-width="1.3"/>
<text x="283" y="322.23" font-size="8.2" fill="#2a2a2a" textLength="61" lengthAdjust="spacingAndGlyphs" stroke="#2a2a2a" stroke-width="0.2">Post-FPI time (hr)</text>
<line x1="242.5" y1="270" x2="242.5" y2="275.5" stroke="#454545" stroke-width="1.2"/>
<line x1="240.5" y1="270.5" x2="244.3" y2="270.5" stroke="#1a1a1a" stroke-width="1.3"/>
<line x1="240.5" y1="275.5" x2="244.3" y2="275.5" stroke="#1a1a1a" stroke-width="1.3"/>
<line x1="289.5" y1="216.2" x2="289.5" y2="236.5" stroke="#454545" stroke-width="1.2"/>
<line x1="287.1" y1="216.5" x2="290.9" y2="216.5" stroke="#1a1a1a" stroke-width="1.3"/>
<line x1="287.1" y1="236.5" x2="290.9" y2="236.5" stroke="#1a1a1a" stroke-width="1.3"/>
<line x1="335.5" y1="232.4" x2="335.5" y2="238.4" stroke="#454545" stroke-width="1.2"/>
<line x1="333.9" y1="232.5" x2="337.7" y2="232.5" stroke="#1a1a1a" stroke-width="1.3"/>
<line x1="333.9" y1="238.5" x2="337.7" y2="238.5" stroke="#1a1a1a" stroke-width="1.3"/>
<line x1="242.5" y1="277.6" x2="242.5" y2="283.1" stroke="#454545" stroke-width="1.2"/>
<line x1="240.5" y1="277.5" x2="244.3" y2="277.5" stroke="#1a1a1a" stroke-width="1.3"/>
<line x1="240.5" y1="283.5" x2="244.3" y2="283.5" stroke="#1a1a1a" stroke-width="1.3"/>
<line x1="289.5" y1="254.6" x2="289.5" y2="264" stroke="#454545" stroke-width="1.2"/>
<line x1="287.1" y1="254.5" x2="290.9" y2="254.5" stroke="#1a1a1a" stroke-width="1.3"/>
<line x1="287.1" y1="264.5" x2="290.9" y2="264.5" stroke="#1a1a1a" stroke-width="1.3"/>
<line x1="335.5" y1="261.6" x2="335.5" y2="268.9" stroke="#454545" stroke-width="1.2"/>
<line x1="333.9" y1="261.5" x2="337.7" y2="261.5" stroke="#1a1a1a" stroke-width="1.3"/>
<line x1="333.9" y1="268.5" x2="337.7" y2="268.5" stroke="#1a1a1a" stroke-width="1.3"/>
<polyline points="242.4,280.3 289,259.5 335.8,265.4" fill="none" stroke="#2a3a5e" stroke-width="1.55" stroke-linejoin="round"/>
<polyline points="242.4,272.8 289,226.2 335.8,235.1" fill="none" stroke="#861030" stroke-width="1.55" stroke-linejoin="round"/>
<circle cx="242.4" cy="280.3" r="2.3" fill="#2b3f68"/>
<circle cx="289" cy="259.5" r="2" fill="#2b3f68"/>
<circle cx="335.8" cy="265.4" r="2" fill="#2b3f68"/>
<circle cx="289" cy="226.2" r="2" fill="#9e0f38"/>
<circle cx="335.8" cy="235.1" r="2" fill="#9e0f38"/>
<circle cx="289" cy="211.6" r="1.35" fill="#1a1a1a"/>
<circle cx="335.8" cy="227" r="1.35" fill="#1a1a1a"/>
<text x="253.8" y="245.03" font-size="8.2" fill="#2a2a2a" textLength="10" lengthAdjust="spacingAndGlyphs" stroke="#2a2a2a" stroke-width="0.2">FPI</text>
<text x="261" y="281.83" font-size="8.2" fill="#2a2a2a" textLength="18.5" lengthAdjust="spacingAndGlyphs" stroke="#2a2a2a" stroke-width="0.2">Sham</text>
<circle cx="242.4" cy="272.8" r="2" fill="#9e0f38"/>
<text x="196.6" y="353" font-size="11.2" font-weight="bold" fill="#000" stroke="#000" stroke-width="0.25">F</text>
<line x1="325.5" y1="389.4" x2="325.5" y2="443" stroke="#1a1a1a" stroke-width="1.2"/>
<line x1="205.4" y1="442.5" x2="326" y2="442.5" stroke="#1a1a1a" stroke-width="1.3"/>
<line x1="325.5" y1="442.3" x2="325.5" y2="445.5" stroke="#1a1a1a" stroke-width="1.1"/>
<text x="325.7" y="455.13" font-size="8.2" fill="#2a2a2a" text-anchor="middle" textLength="4.1" lengthAdjust="spacingAndGlyphs" stroke="#2a2a2a" stroke-width="0.2">0</text>
<line x1="301.5" y1="442.3" x2="301.5" y2="445.5" stroke="#1a1a1a" stroke-width="1.1"/>
<text x="302.27" y="455.13" font-size="8.2" fill="#2a2a2a" text-anchor="middle" textLength="4.1" lengthAdjust="spacingAndGlyphs" stroke="#2a2a2a" stroke-width="0.2">3</text>
<line x1="278.5" y1="442.3" x2="278.5" y2="445.5" stroke="#1a1a1a" stroke-width="1.1"/>
<text x="278.84" y="455.13" font-size="8.2" fill="#2a2a2a" text-anchor="middle" textLength="4.1" lengthAdjust="spacingAndGlyphs" stroke="#2a2a2a" stroke-width="0.2">6</text>
<line x1="255.5" y1="442.3" x2="255.5" y2="445.5" stroke="#1a1a1a" stroke-width="1.1"/>
<text x="255.41" y="455.13" font-size="8.2" fill="#2a2a2a" text-anchor="middle" textLength="4.1" lengthAdjust="spacingAndGlyphs" stroke="#2a2a2a" stroke-width="0.2">9</text>
<line x1="231.5" y1="442.3" x2="231.5" y2="445.5" stroke="#1a1a1a" stroke-width="1.1"/>
<text x="231.98" y="455.13" font-size="8.2" fill="#2a2a2a" text-anchor="middle" textLength="8.2" lengthAdjust="spacingAndGlyphs" stroke="#2a2a2a" stroke-width="0.2">12</text>
<line x1="208.5" y1="442.3" x2="208.5" y2="445.5" stroke="#1a1a1a" stroke-width="1.1"/>
<text x="208.55" y="455.13" font-size="8.2" fill="#2a2a2a" text-anchor="middle" textLength="8.2" lengthAdjust="spacingAndGlyphs" stroke="#2a2a2a" stroke-width="0.2">15</text>
<text x="219.4" y="471.2" font-size="8.8" fill="#2a2a2a" textLength="39" lengthAdjust="spacingAndGlyphs" stroke="#2a2a2a" stroke-width="0.2"># Annexin V</text>
<path d="M257.6 465.92H260.8M259.2 464.32V467.52" stroke="#2a2a2a" stroke-width="1.0" fill="none"/>
<text x="265.4" y="471.2" font-size="8.8" fill="#2a2a2a" textLength="39.2" lengthAdjust="spacingAndGlyphs" stroke="#2a2a2a" stroke-width="0.2">MVs/µl (x10</text>
<text x="304.8" y="468.03" font-size="5.46" fill="#2a2a2a" textLength="2.1" lengthAdjust="spacingAndGlyphs" stroke="#2a2a2a" stroke-width="0.2">4</text>
<text x="307.7" y="471.2" font-size="8.8" fill="#2a2a2a" textLength="3.1" lengthAdjust="spacingAndGlyphs" stroke="#2a2a2a" stroke-width="0.2">)</text>
<rect x="289.7" y="391.3" width="35.7" height="11.6" fill="#6fb443"/>
<rect x="322.5" y="407" width="2.9" height="12" fill="#2b4b8c"/>
<rect x="237.7" y="423.6" width="87.7" height="11.6" fill="#b50a35"/>
<line x1="289.7" y1="397.5" x2="287" y2="397.5" stroke="#1a1a1a" stroke-width="1"/>
<line x1="287.5" y1="395.6" x2="287.5" y2="398.6" stroke="#1a1a1a" stroke-width="1"/>
<line x1="322.5" y1="413.5" x2="317.7" y2="413.5" stroke="#1a1a1a" stroke-width="1"/>
<line x1="317.5" y1="411.5" x2="317.5" y2="414.5" stroke="#1a1a1a" stroke-width="1"/>
<line x1="237.7" y1="429.5" x2="222.9" y2="429.5" stroke="#1a1a1a" stroke-width="1"/>
<line x1="222.5" y1="427.9" x2="222.5" y2="430.9" stroke="#1a1a1a" stroke-width="1"/>
<line x1="217.5" y1="397.5" x2="217.5" y2="429.3" stroke="#1a1a1a" stroke-width="1.1"/>
<circle cx="214.2" cy="413.6" r="1.35" fill="#1a1a1a"/>
<line x1="283.5" y1="396.5" x2="283.5" y2="413.6" stroke="#1a1a1a" stroke-width="1.1"/>
<circle cx="280" cy="405.4" r="1.35" fill="#1a1a1a"/>
<text x="328.7" y="395.33" font-size="8.2" fill="#2a2a2a" textLength="16.2" lengthAdjust="spacingAndGlyphs" stroke="#2a2a2a" stroke-width="0.2">FPI+</text>
<text x="328.7" y="404.13" font-size="8.2" fill="#2a2a2a" textLength="39.4" lengthAdjust="spacingAndGlyphs" stroke="#2a2a2a" stroke-width="0.2">lactadherin</text>
<text x="328.7" y="415.63" font-size="8.2" fill="#2a2a2a" textLength="18.2" lengthAdjust="spacingAndGlyphs" stroke="#2a2a2a" stroke-width="0.2">sham</text>
<text x="328.7" y="431.83" font-size="8.2" fill="#2a2a2a" textLength="30" lengthAdjust="spacingAndGlyphs" stroke="#2a2a2a" stroke-width="0.2">FPI+PBS</text>
<text x="358.3" y="16.2" font-size="11.2" font-weight="bold" fill="#000" stroke="#000" stroke-width="0.25">G</text>
<rect x="371.8" y="28.5" width="13.5" height="6.1" fill="#b50a35"/>
<rect x="371.8" y="38.9" width="13.5" height="6.1" fill="#2b4b8c"/>
<rect x="371.8" y="49" width="13.5" height="6.4" fill="#6fb443"/>
<text x="388.7" y="34.23" font-size="8.2" fill="#2a2a2a" textLength="28.2" lengthAdjust="spacingAndGlyphs" stroke="#2a2a2a" stroke-width="0.2">FPI+PBS</text>
<text x="388.7" y="44.53" font-size="8.2" fill="#2a2a2a" textLength="17.9" lengthAdjust="spacingAndGlyphs" stroke="#2a2a2a" stroke-width="0.2">Sham</text>
<text x="388.7" y="54.83" font-size="8.2" fill="#2a2a2a" textLength="51.9" lengthAdjust="spacingAndGlyphs" stroke="#2a2a2a" stroke-width="0.2">FPI+lactadherin</text>
<line x1="498.5" y1="66.8" x2="498.5" y2="147" stroke="#1a1a1a" stroke-width="1.2"/>
<line x1="367.3" y1="146.5" x2="498.9" y2="146.5" stroke="#1a1a1a" stroke-width="1.3"/>
<line x1="498.5" y1="146.4" x2="498.5" y2="149.4" stroke="#1a1a1a" stroke-width="1.1"/>
<text x="498.5" y="159.33" font-size="8.2" fill="#2a2a2a" text-anchor="middle" textLength="4.1" lengthAdjust="spacingAndGlyphs" stroke="#2a2a2a" stroke-width="0.2">0</text>
<line x1="476.5" y1="146.4" x2="476.5" y2="149.4" stroke="#1a1a1a" stroke-width="1.1"/>
<text x="477.15" y="159.33" font-size="8.2" fill="#2a2a2a" text-anchor="middle" textLength="4.1" lengthAdjust="spacingAndGlyphs" stroke="#2a2a2a" stroke-width="0.2">1</text>
<line x1="455.5" y1="146.4" x2="455.5" y2="149.4" stroke="#1a1a1a" stroke-width="1.1"/>
<text x="455.8" y="159.33" font-size="8.2" fill="#2a2a2a" text-anchor="middle" textLength="4.1" lengthAdjust="spacingAndGlyphs" stroke="#2a2a2a" stroke-width="0.2">2</text>
<line x1="434.5" y1="146.4" x2="434.5" y2="149.4" stroke="#1a1a1a" stroke-width="1.1"/>
<text x="434.45" y="159.33" font-size="8.2" fill="#2a2a2a" text-anchor="middle" textLength="4.1" lengthAdjust="spacingAndGlyphs" stroke="#2a2a2a" stroke-width="0.2">3</text>
<line x1="412.5" y1="146.4" x2="412.5" y2="149.4" stroke="#1a1a1a" stroke-width="1.1"/>
<text x="413.1" y="159.33" font-size="8.2" fill="#2a2a2a" text-anchor="middle" textLength="4.1" lengthAdjust="spacingAndGlyphs" stroke="#2a2a2a" stroke-width="0.2">4</text>
<line x1="391.5" y1="146.4" x2="391.5" y2="149.4" stroke="#1a1a1a" stroke-width="1.1"/>
<text x="391.75" y="159.33" font-size="8.2" fill="#2a2a2a" text-anchor="middle" textLength="4.1" lengthAdjust="spacingAndGlyphs" stroke="#2a2a2a" stroke-width="0.2">5</text>
<line x1="370.5" y1="146.4" x2="370.5" y2="149.4" stroke="#1a1a1a" stroke-width="1.1"/>
<text x="370.4" y="159.33" font-size="8.2" fill="#2a2a2a" text-anchor="middle" textLength="4.1" lengthAdjust="spacingAndGlyphs" stroke="#2a2a2a" stroke-width="0.2">6</text>
<text x="385.8" y="172.3" font-size="8.8" fill="#2a2a2a" textLength="43.5" lengthAdjust="spacingAndGlyphs" stroke="#2a2a2a" stroke-width="0.2"># VWF-bound</text>
<text x="432" y="172.3" font-size="8.8" fill="#2a2a2a" textLength="41.7" lengthAdjust="spacingAndGlyphs" stroke="#2a2a2a" stroke-width="0.2">MVs/µl (x10</text>
<text x="473.7" y="169.13" font-size="5.46" fill="#2a2a2a" textLength="2.4" lengthAdjust="spacingAndGlyphs" stroke="#2a2a2a" stroke-width="0.2">4</text>
<text x="476.5" y="172.3" font-size="8.8" fill="#2a2a2a" textLength="2.1" lengthAdjust="spacingAndGlyphs" stroke="#2a2a2a" stroke-width="0.2">)</text>
<text x="511.4" y="145.3" font-size="8.8" fill="#2a2a2a" textLength="48" lengthAdjust="spacingAndGlyphs" stroke="#2a2a2a" stroke-width="0.2" transform="rotate(-90 511.4 145.3)">BDMV CD41a</text>
<path d="M504.52 94.6H507.72M506.12 93V96.2" stroke="#2a2a2a" stroke-width="1.0" fill="none"/>
<text x="511.4" y="91.2" font-size="8.8" fill="#2a2a2a" textLength="19.2" lengthAdjust="spacingAndGlyphs" stroke="#2a2a2a" stroke-width="0.2" transform="rotate(-90 511.4 91.2)">CD31</text>
<path d="M504.52 69.35H507.72M506.12 67.75V70.95" stroke="#2a2a2a" stroke-width="1.0" fill="none"/>
<rect x="481.1" y="68.5" width="17.2" height="5.7" fill="#6fb443"/>
<rect x="492.2" y="77" width="6.1" height="4.4" fill="#2b4b8c"/>
<rect x="468.3" y="84" width="30" height="5.5" fill="#b50a35"/>
<rect x="432.7" y="96.9" width="65.6" height="5.2" fill="#6fb443"/>
<rect x="456.8" y="104.4" width="41.5" height="5.2" fill="#2b4b8c"/>
<rect x="388.7" y="111.9" width="109.6" height="5.1" fill="#b50a35"/>
<rect x="477.1" y="124.5" width="21.2" height="5.7" fill="#6fb443"/>
<rect x="492.7" y="132.3" width="5.6" height="4.3" fill="#2b4b8c"/>
<rect x="448.4" y="138.4" width="49.9" height="5.7" fill="#b50a35"/>
<line x1="481.1" y1="71.5" x2="475.2" y2="71.5" stroke="#1a1a1a" stroke-width="1"/>
<line x1="475.5" y1="69.9" x2="475.5" y2="72.9" stroke="#1a1a1a" stroke-width="1"/>
<line x1="492.2" y1="79.5" x2="490.6" y2="79.5" stroke="#1a1a1a" stroke-width="1"/>
<line x1="490.5" y1="77.7" x2="490.5" y2="80.7" stroke="#1a1a1a" stroke-width="1"/>
<line x1="468.3" y1="86.5" x2="463.4" y2="86.5" stroke="#1a1a1a" stroke-width="1"/>
<line x1="463.5" y1="85.1" x2="463.5" y2="88.1" stroke="#1a1a1a" stroke-width="1"/>
<line x1="432.7" y1="99.5" x2="419.6" y2="99.5" stroke="#1a1a1a" stroke-width="1"/>
<line x1="419.5" y1="98.1" x2="419.5" y2="101.1" stroke="#1a1a1a" stroke-width="1"/>
<line x1="456.8" y1="106.5" x2="434.5" y2="106.5" stroke="#1a1a1a" stroke-width="1"/>
<line x1="434.5" y1="105.4" x2="434.5" y2="108.4" stroke="#1a1a1a" stroke-width="1"/>
<line x1="388.7" y1="114.5" x2="376.5" y2="114.5" stroke="#1a1a1a" stroke-width="1"/>
<line x1="376.5" y1="112.9" x2="376.5" y2="115.9" stroke="#1a1a1a" stroke-width="1"/>
<line x1="477.1" y1="127.5" x2="466.2" y2="127.5" stroke="#1a1a1a" stroke-width="1"/>
<line x1="466.5" y1="125.9" x2="466.5" y2="128.9" stroke="#1a1a1a" stroke-width="1"/>
<line x1="492.7" y1="134.5" x2="491" y2="134.5" stroke="#1a1a1a" stroke-width="1"/>
<line x1="491.5" y1="133" x2="491.5" y2="136" stroke="#1a1a1a" stroke-width="1"/>
<line x1="448.4" y1="141.5" x2="432.1" y2="141.5" stroke="#1a1a1a" stroke-width="1"/>
<line x1="432.5" y1="139.8" x2="432.5" y2="142.8" stroke="#1a1a1a" stroke-width="1"/>
<line x1="472.5" y1="70.8" x2="472.5" y2="77.5" stroke="#2a2a2a" stroke-width="1.1"/>
<circle cx="468.4" cy="73.7" r="1.05" fill="#2a2a2a"/>
<line x1="451.5" y1="70.1" x2="451.5" y2="86.2" stroke="#2a2a2a" stroke-width="1.1"/>
<circle cx="446.8" cy="77.8" r="1.05" fill="#2a2a2a"/>
<line x1="460.5" y1="79.5" x2="460.5" y2="87.6" stroke="#2a2a2a" stroke-width="1.1"/>
<circle cx="455.8" cy="82.2" r="1.05" fill="#2a2a2a"/>
<line x1="416.5" y1="99.7" x2="416.5" y2="106.8" stroke="#2a2a2a" stroke-width="1.1"/>
<circle cx="412" cy="103.4" r="1.05" fill="#2a2a2a"/>
<line x1="364.5" y1="99.3" x2="364.5" y2="112.4" stroke="#2a2a2a" stroke-width="1.1"/>
<circle cx="360.2" cy="104.9" r="1.05" fill="#2a2a2a"/>
<line x1="375.5" y1="105.8" x2="375.5" y2="114.6" stroke="#2a2a2a" stroke-width="1.1"/>
<circle cx="369.6" cy="109" r="1.05" fill="#2a2a2a"/>
<line x1="462.5" y1="126.8" x2="462.5" y2="134" stroke="#2a2a2a" stroke-width="1.1"/>
<circle cx="458.1" cy="130.2" r="1.05" fill="#2a2a2a"/>
<line x1="422.5" y1="126.2" x2="422.5" y2="139.2" stroke="#2a2a2a" stroke-width="1.1"/>
<circle cx="417.3" cy="132.3" r="1.05" fill="#2a2a2a"/>
<line x1="430.5" y1="133.2" x2="430.5" y2="141.8" stroke="#2a2a2a" stroke-width="1.1"/>
<circle cx="425.9" cy="136.6" r="1.05" fill="#2a2a2a"/>
<text x="371.8" y="191.5" font-size="11.2" font-weight="bold" fill="#000" stroke="#000" stroke-width="0.25">H</text>
<rect x="393.4" y="192" width="13.5" height="6.7" fill="#b50a35"/>
<rect x="393.4" y="201.8" width="13.5" height="6.1" fill="#2b4b8c"/>
<rect x="393.4" y="211.3" width="13.5" height="6.4" fill="#6fb443"/>
<text x="410" y="198.23" font-size="8.2" fill="#2a2a2a" textLength="27.7" lengthAdjust="spacingAndGlyphs" stroke="#2a2a2a" stroke-width="0.2">FPI+PBS</text>
<text x="410" y="207.83" font-size="8.2" fill="#2a2a2a" textLength="17.6" lengthAdjust="spacingAndGlyphs" stroke="#2a2a2a" stroke-width="0.2">Sham</text>
<text x="410" y="217.73" font-size="8.2" fill="#2a2a2a" textLength="51" lengthAdjust="spacingAndGlyphs" stroke="#2a2a2a" stroke-width="0.2">FPI+lactadherin</text>
<line x1="404.5" y1="228.4" x2="404.5" y2="334.3" stroke="#1a1a1a" stroke-width="1.2"/>
<line x1="400.9" y1="333.5" x2="404" y2="333.5" stroke="#1a1a1a" stroke-width="1.1"/>
<text x="397.4" y="336.43" font-size="8.2" fill="#2a2a2a" text-anchor="end" textLength="4.1" lengthAdjust="spacingAndGlyphs" stroke="#2a2a2a" stroke-width="0.2">0</text>
<line x1="400.9" y1="313.5" x2="404" y2="313.5" stroke="#1a1a1a" stroke-width="1.1"/>
<text x="397.4" y="315.93" font-size="8.2" fill="#2a2a2a" text-anchor="end" textLength="8.2" lengthAdjust="spacingAndGlyphs" stroke="#2a2a2a" stroke-width="0.2">50</text>
<line x1="400.9" y1="292.5" x2="404" y2="292.5" stroke="#1a1a1a" stroke-width="1.1"/>
<text x="397.4" y="295.43" font-size="8.2" fill="#2a2a2a" text-anchor="end" textLength="12.3" lengthAdjust="spacingAndGlyphs" stroke="#2a2a2a" stroke-width="0.2">100</text>
<line x1="400.9" y1="272.5" x2="404" y2="272.5" stroke="#1a1a1a" stroke-width="1.1"/>
<text x="397.4" y="274.93" font-size="8.2" fill="#2a2a2a" text-anchor="end" textLength="12.3" lengthAdjust="spacingAndGlyphs" stroke="#2a2a2a" stroke-width="0.2">150</text>
<line x1="400.9" y1="251.5" x2="404" y2="251.5" stroke="#1a1a1a" stroke-width="1.1"/>
<text x="397.4" y="254.43" font-size="8.2" fill="#2a2a2a" text-anchor="end" textLength="12.3" lengthAdjust="spacingAndGlyphs" stroke="#2a2a2a" stroke-width="0.2">200</text>
<line x1="400.9" y1="231.5" x2="404" y2="231.5" stroke="#1a1a1a" stroke-width="1.1"/>
<text x="397.4" y="233.93" font-size="8.2" fill="#2a2a2a" text-anchor="end" textLength="12.3" lengthAdjust="spacingAndGlyphs" stroke="#2a2a2a" stroke-width="0.2">250</text>
<rect x="408" y="293.3" width="8.9" height="40.4" fill="#b50a35"/>
<rect x="417.5" y="293.9" width="8.3" height="39.8" fill="#2b4b8c"/>
<rect x="426.4" y="295.4" width="8.5" height="38.3" fill="#6fb443"/>
<rect x="440.6" y="241" width="8.7" height="92.7" fill="#b50a35"/>
<rect x="449.9" y="283.3" width="7.9" height="50.4" fill="#2b4b8c"/>
<rect x="458.6" y="264.3" width="8.5" height="69.4" fill="#6fb443"/>
<rect x="473" y="269.4" width="8.9" height="64.3" fill="#b50a35"/>
<rect x="482.5" y="291.8" width="8" height="41.9" fill="#2b4b8c"/>
<rect x="491.2" y="288" width="8.4" height="45.7" fill="#6fb443"/>
<line x1="412.5" y1="293.3" x2="412.5" y2="290.5" stroke="#1a1a1a" stroke-width="1"/>
<line x1="411.05" y1="290.5" x2="413.85" y2="290.5" stroke="#1a1a1a" stroke-width="1"/>
<line x1="421.5" y1="293.9" x2="421.5" y2="292.4" stroke="#1a1a1a" stroke-width="1"/>
<line x1="420.25" y1="292.5" x2="423.05" y2="292.5" stroke="#1a1a1a" stroke-width="1"/>
<line x1="430.5" y1="295.4" x2="430.5" y2="292.4" stroke="#1a1a1a" stroke-width="1"/>
<line x1="429.25" y1="292.5" x2="432.05" y2="292.5" stroke="#1a1a1a" stroke-width="1"/>
<line x1="444.5" y1="241" x2="444.5" y2="237.6" stroke="#1a1a1a" stroke-width="1"/>
<line x1="443.55" y1="237.5" x2="446.35" y2="237.5" stroke="#1a1a1a" stroke-width="1"/>
<line x1="453.5" y1="283.3" x2="453.5" y2="280" stroke="#1a1a1a" stroke-width="1"/>
<line x1="452.45" y1="280.5" x2="455.25" y2="280.5" stroke="#1a1a1a" stroke-width="1"/>
<line x1="462.5" y1="264.3" x2="462.5" y2="260.5" stroke="#1a1a1a" stroke-width="1"/>
<line x1="461.45" y1="260.5" x2="464.25" y2="260.5" stroke="#1a1a1a" stroke-width="1"/>
<line x1="477.5" y1="269.4" x2="477.5" y2="262" stroke="#1a1a1a" stroke-width="1"/>
<line x1="476.05" y1="262.5" x2="478.85" y2="262.5" stroke="#1a1a1a" stroke-width="1"/>
<line x1="486.5" y1="291.8" x2="486.5" y2="287.3" stroke="#1a1a1a" stroke-width="1"/>
<line x1="485.1" y1="287.5" x2="487.9" y2="287.5" stroke="#1a1a1a" stroke-width="1"/>
<line x1="495.5" y1="288" x2="495.5" y2="283.3" stroke="#1a1a1a" stroke-width="1"/>
<line x1="494" y1="283.5" x2="496.8" y2="283.5" stroke="#1a1a1a" stroke-width="1"/>
<line x1="403.4" y1="333.5" x2="505" y2="333.5" stroke="#1a1a1a" stroke-width="1.4"/>
<text x="379.4" y="281.7" font-size="8.8" fill="#2a2a2a" text-anchor="middle" textLength="52.6" lengthAdjust="spacingAndGlyphs" stroke="#2a2a2a" stroke-width="0.2" transform="rotate(-90 379.4 281.7)">VWF:Ag (ng/ml)</text>
<line x1="445.5" y1="224.5" x2="466" y2="224.5" stroke="#1a1a1a" stroke-width="1.1"/>
<circle cx="455.4" cy="221" r="1.35" fill="#1a1a1a"/>
<line x1="444.4" y1="235.5" x2="454" y2="235.5" stroke="#1a1a1a" stroke-width="1.1"/>
<circle cx="449" cy="231.3" r="1.35" fill="#1a1a1a"/>
<line x1="454.6" y1="257.5" x2="463.5" y2="257.5" stroke="#1a1a1a" stroke-width="1.1"/>
<circle cx="459.2" cy="253.5" r="1.35" fill="#1a1a1a"/>
<line x1="477.2" y1="248.5" x2="498.4" y2="248.5" stroke="#1a1a1a" stroke-width="1.1"/>
<circle cx="487.2" cy="244.6" r="1.35" fill="#1a1a1a"/>
<line x1="477.2" y1="259.5" x2="485.7" y2="259.5" stroke="#1a1a1a" stroke-width="1.1"/>
<circle cx="481.4" cy="255.2" r="1.35" fill="#1a1a1a"/>
<line x1="403.5" y1="354.1" x2="403.5" y2="441.2" stroke="#1a1a1a" stroke-width="1.2"/>
<line x1="400.8" y1="440.5" x2="403.9" y2="440.5" stroke="#1a1a1a" stroke-width="1.1"/>
<text x="398.1" y="443.63" font-size="8.2" fill="#2a2a2a" text-anchor="end" textLength="4.1" lengthAdjust="spacingAndGlyphs" stroke="#2a2a2a" stroke-width="0.2">0</text>
<line x1="400.8" y1="430.5" x2="403.9" y2="430.5" stroke="#1a1a1a" stroke-width="1.1"/>
<text x="398.1" y="433.18" font-size="8.2" fill="#2a2a2a" text-anchor="end" textLength="10.6" lengthAdjust="spacingAndGlyphs" stroke="#2a2a2a" stroke-width="0.2">0.2</text>
<line x1="400.8" y1="419.5" x2="403.9" y2="419.5" stroke="#1a1a1a" stroke-width="1.1"/>
<text x="398.1" y="422.73" font-size="8.2" fill="#2a2a2a" text-anchor="end" textLength="10.6" lengthAdjust="spacingAndGlyphs" stroke="#2a2a2a" stroke-width="0.2">0.4</text>
<line x1="400.8" y1="409.5" x2="403.9" y2="409.5" stroke="#1a1a1a" stroke-width="1.1"/>
<text x="398.1" y="412.28" font-size="8.2" fill="#2a2a2a" text-anchor="end" textLength="10.6" lengthAdjust="spacingAndGlyphs" stroke="#2a2a2a" stroke-width="0.2">0.6</text>
<line x1="400.8" y1="399.5" x2="403.9" y2="399.5" stroke="#1a1a1a" stroke-width="1.1"/>
<text x="398.1" y="401.83" font-size="8.2" fill="#2a2a2a" text-anchor="end" textLength="10.6" lengthAdjust="spacingAndGlyphs" stroke="#2a2a2a" stroke-width="0.2">0.8</text>
<line x1="400.8" y1="388.5" x2="403.9" y2="388.5" stroke="#1a1a1a" stroke-width="1.1"/>
<text x="398.1" y="391.38" font-size="8.2" fill="#2a2a2a" text-anchor="end" textLength="4.1" lengthAdjust="spacingAndGlyphs" stroke="#2a2a2a" stroke-width="0.2">1</text>
<line x1="400.8" y1="378.5" x2="403.9" y2="378.5" stroke="#1a1a1a" stroke-width="1.1"/>
<text x="398.1" y="380.93" font-size="8.2" fill="#2a2a2a" text-anchor="end" textLength="10.6" lengthAdjust="spacingAndGlyphs" stroke="#2a2a2a" stroke-width="0.2">1.2</text>
<line x1="400.8" y1="367.5" x2="403.9" y2="367.5" stroke="#1a1a1a" stroke-width="1.1"/>
<text x="398.1" y="370.48" font-size="8.2" fill="#2a2a2a" text-anchor="end" textLength="10.6" lengthAdjust="spacingAndGlyphs" stroke="#2a2a2a" stroke-width="0.2">1.4</text>
<line x1="400.8" y1="357.5" x2="403.9" y2="357.5" stroke="#1a1a1a" stroke-width="1.1"/>
<text x="398.1" y="360.03" font-size="8.2" fill="#2a2a2a" text-anchor="end" textLength="10.6" lengthAdjust="spacingAndGlyphs" stroke="#2a2a2a" stroke-width="0.2">1.6</text>
<rect x="408.1" y="432.8" width="8.3" height="7.8" fill="#b50a35"/>
<rect x="416.8" y="433.4" width="7.9" height="7.2" fill="#2b4b8c"/>
<rect x="425.1" y="432.8" width="8.3" height="7.8" fill="#6fb443"/>
<rect x="441.5" y="366.6" width="7.6" height="74" fill="#b50a35"/>
<rect x="449.8" y="412.5" width="8.1" height="28.1" fill="#2b4b8c"/>
<rect x="458.3" y="396.3" width="8.3" height="44.3" fill="#6fb443"/>
<rect x="473.8" y="393.5" width="8.1" height="47.1" fill="#b50a35"/>
<rect x="482.3" y="419" width="7.9" height="21.6" fill="#2b4b8c"/>
<rect x="490.6" y="414.2" width="8.3" height="26.4" fill="#6fb443"/>
<line x1="412.5" y1="432.8" x2="412.5" y2="432" stroke="#1a1a1a" stroke-width="1"/>
<line x1="410.85" y1="432.5" x2="413.65" y2="432.5" stroke="#1a1a1a" stroke-width="1"/>
<line x1="420.5" y1="433.4" x2="420.5" y2="432.1" stroke="#1a1a1a" stroke-width="1"/>
<line x1="419.35" y1="432.5" x2="422.15" y2="432.5" stroke="#1a1a1a" stroke-width="1"/>
<line x1="429.5" y1="432.8" x2="429.5" y2="432" stroke="#1a1a1a" stroke-width="1"/>
<line x1="427.85" y1="432.5" x2="430.65" y2="432.5" stroke="#1a1a1a" stroke-width="1"/>
<line x1="445.5" y1="366.6" x2="445.5" y2="361.8" stroke="#1a1a1a" stroke-width="1"/>
<line x1="443.9" y1="361.5" x2="446.7" y2="361.5" stroke="#1a1a1a" stroke-width="1"/>
<line x1="453.5" y1="412.5" x2="453.5" y2="409.4" stroke="#1a1a1a" stroke-width="1"/>
<line x1="452.45" y1="409.5" x2="455.25" y2="409.5" stroke="#1a1a1a" stroke-width="1"/>
<line x1="462.5" y1="396.3" x2="462.5" y2="393" stroke="#1a1a1a" stroke-width="1"/>
<line x1="461.05" y1="393.5" x2="463.85" y2="393.5" stroke="#1a1a1a" stroke-width="1"/>
<line x1="477.5" y1="393.5" x2="477.5" y2="389.1" stroke="#1a1a1a" stroke-width="1"/>
<line x1="476.45" y1="389.5" x2="479.25" y2="389.5" stroke="#1a1a1a" stroke-width="1"/>
<line x1="486.5" y1="419" x2="486.5" y2="417.5" stroke="#1a1a1a" stroke-width="1"/>
<line x1="484.85" y1="417.5" x2="487.65" y2="417.5" stroke="#1a1a1a" stroke-width="1"/>
<line x1="494.5" y1="414.2" x2="494.5" y2="412" stroke="#1a1a1a" stroke-width="1"/>
<line x1="493.35" y1="412.5" x2="496.15" y2="412.5" stroke="#1a1a1a" stroke-width="1"/>
<line x1="403.3" y1="440.5" x2="502.6" y2="440.5" stroke="#1a1a1a" stroke-width="1.4"/>
<text x="382.6" y="397.2" font-size="8.8" fill="#2a2a2a" text-anchor="middle" textLength="72.8" lengthAdjust="spacingAndGlyphs" stroke="#2a2a2a" stroke-width="0.2" transform="rotate(-90 382.6 397.2)">VWF:CB (OD 450 nm)</text>
<line x1="445.4" y1="352.5" x2="465.9" y2="352.5" stroke="#1a1a1a" stroke-width="1.1"/>
<circle cx="455.7" cy="349.2" r="1.35" fill="#1a1a1a"/>
<line x1="445.4" y1="360.5" x2="453.5" y2="360.5" stroke="#1a1a1a" stroke-width="1.1"/>
<circle cx="449.6" cy="356" r="1.35" fill="#1a1a1a"/>
<line x1="454.1" y1="390.5" x2="463.3" y2="390.5" stroke="#1a1a1a" stroke-width="1.1"/>
<circle cx="459" cy="388" r="1.35" fill="#1a1a1a"/>
<line x1="477.5" y1="377.5" x2="497.8" y2="377.5" stroke="#1a1a1a" stroke-width="1.1"/>
<circle cx="487.8" cy="373.2" r="1.35" fill="#1a1a1a"/>
<line x1="476.9" y1="385.5" x2="485.8" y2="385.5" stroke="#1a1a1a" stroke-width="1.1"/>
<circle cx="481.2" cy="381.9" r="1.35" fill="#1a1a1a"/>
<text x="420.8" y="451.03" font-size="8.2" fill="#2a2a2a" text-anchor="middle" textLength="29.1" lengthAdjust="spacingAndGlyphs" stroke="#2a2a2a" stroke-width="0.2">Baseline</text>
<text x="420.8" y="460.63" font-size="8.2" fill="#2a2a2a" text-anchor="middle" textLength="36.1" lengthAdjust="spacingAndGlyphs" stroke="#2a2a2a" stroke-width="0.2">Before FPI</text>
<text x="453.4" y="451.03" font-size="8.2" fill="#2a2a2a" text-anchor="middle" textLength="4.1" lengthAdjust="spacingAndGlyphs" stroke="#2a2a2a" stroke-width="0.2">3</text>
<text x="485.9" y="451.03" font-size="8.2" fill="#2a2a2a" text-anchor="middle" textLength="4.1" lengthAdjust="spacingAndGlyphs" stroke="#2a2a2a" stroke-width="0.2">6</text>
<line x1="441.9" y1="454.5" x2="502" y2="454.5" stroke="#1a1a1a" stroke-width="1.1"/>
<text x="444.3" y="466.23" font-size="8.2" fill="#2a2a2a" textLength="60.8" lengthAdjust="spacingAndGlyphs" stroke="#2a2a2a" stroke-width="0.2">Post-FPI time (hr)</text>
</svg>
</body></html>
